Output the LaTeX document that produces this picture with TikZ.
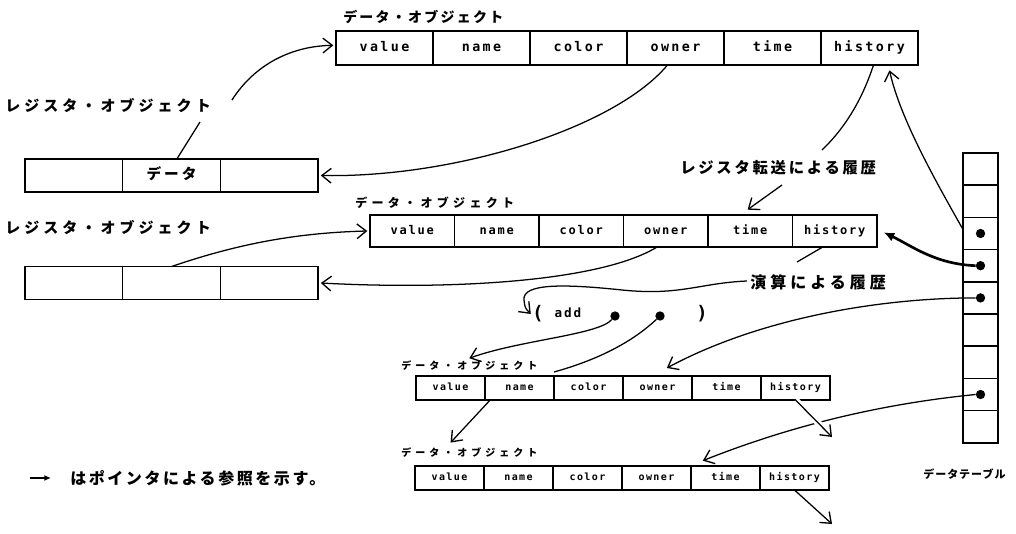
\documentclass[tikz,border=0pt]{standalone}
\usepackage{fontspec}
\usetikzlibrary{arrows.meta}
\newfontfamily\jp{Noto Sans CJK JP}
\newfontfamily\mono{DejaVu Sans Mono}
\begin{document}
\begin{tikzpicture}[x=0.75pt,y=-0.75pt,
  box/.style={draw, line width=1.1pt, inner sep=0pt, outer sep=0pt},
  cellT/.style={box, minimum width=72.75pt, minimum height=25.5pt, text height=7.5pt, text depth=2pt, font=\mono\bfseries\fontsize{10}{12}\selectfont\addfontfeature{LetterSpace=18}},
  cellM/.style={box, minimum width=63.375pt, minimum height=24pt, text height=6.8pt, text depth=1.8pt, font=\mono\bfseries\fontsize{9}{11}\selectfont\addfontfeature{LetterSpace=15}},
  cellS/.style={box, minimum width=51.75pt, minimum height=18pt, text height=5.6pt, text depth=1.5pt, font=\mono\bfseries\fontsize{7.5}{9}\selectfont\addfontfeature{LetterSpace=14}},
  cellR/.style={box, minimum width=73.3pt, minimum height=24.75pt, text height=8pt, text depth=2pt, font=\jp\bfseries\fontsize{11}{13}\selectfont\addfontfeature{LetterSpace=20}},
  cellD/.style={box, minimum width=26.25pt, minimum height=24.15pt},
  lbl/.style={anchor=west, inner sep=0pt},
  lblTop/.style={lbl, font=\jp\bfseries\fontsize{10.5}{12}\selectfont\addfontfeature{LetterSpace=16}},
  lblReg/.style={lbl, font=\jp\bfseries\fontsize{11.25}{13}\selectfont\addfontfeature{LetterSpace=27}},
  lblMid/.style={lbl, font=\jp\bfseries\fontsize{9}{11}\selectfont\addfontfeature{LetterSpace=36}},
  lblSm/.style={lbl, font=\jp\bfseries\fontsize{7.5}{9}\selectfont\addfontfeature{LetterSpace=40}},
  lblHA/.style={lbl, font=\jp\bfseries\fontsize{11.5}{13}\selectfont\addfontfeature{LetterSpace=18}},
  lblHB/.style={lbl, font=\jp\bfseries\fontsize{12}{14}\selectfont\addfontfeature{LetterSpace=25}},
  lblTab/.style={lbl, font=\jp\bfseries\fontsize{8.25}{10}\selectfont\addfontfeature{LetterSpace=9}},
  lblLeg/.style={lbl, font=\jp\bfseries\fontsize{12}{14}\selectfont\addfontfeature{LetterSpace=16}},
  paren/.style={inner sep=0pt, font=\mono\bfseries\fontsize{14}{16}\selectfont},
  addf/.style={inner sep=0pt, font=\mono\bfseries\fontsize{9.5}{11}\selectfont\addfontfeature{LetterSpace=15}},
  dotn/.style={circle, fill=black, inner sep=0pt, minimum size=7pt},
  ln/.style={line width=0.95pt},
  ptr/.style={ln, -{Straight Barb[length=7pt,width=11pt,line width=1pt]}},
  thickptr/.style={line width=2pt, -{Latex[length=8pt,width=7pt]}},
  gap/.style={preaction={draw=white, line width=5pt, -}}
]
\fill[white] (0,0) rectangle (1016,534);
\useasboundingbox (0,0) rectangle (1016,534);

% ---------- top data object ----------
\node[lblTop] (lt) at (343,17) {データ・オブジェクト};
\node[cellT] (t1) at (384.5,48) {value};
\node[cellT, anchor=west] (t2) at (t1.east) {name};
\node[cellT, anchor=west] (t3) at (t2.east) {color};
\node[cellT, anchor=west] (t4) at (t3.east) {owner};
\node[cellT, anchor=west] (t5) at (t4.east) {time};
\node[cellT, anchor=west] (t6) at (t5.east) {history};

% ---------- register object 1 ----------
\node[lblReg] (rl1) at (5,106) {レジスタ・オブジェクト};
\node[cellR] (r1a) at (73.8,175.5) {};
\node[cellR, anchor=west] (r1b) at (r1a.east) {データ};
\node[cellR, anchor=west] (r1c) at (r1b.east) {};

% ---------- middle data object ----------
\node[lblMid] (lm) at (355,203) {データ・オブジェクト};
\node[cellM] (m1) at (412.25,231) {value};
\node[cellM, anchor=west] (m2) at (m1.east) {name};
\node[cellM, anchor=west] (m3) at (m2.east) {color};
\node[cellM, anchor=west] (m4) at (m3.east) {owner};
\node[cellM, anchor=west] (m5) at (m4.east) {time};
\node[cellM, anchor=west] (m6) at (m5.east) {history};

% ---------- register object 2 ----------
\node[lblReg] (rl2) at (5,228) {レジスタ・オブジェクト};
\node[cellR] (r2a) at (73.8,283) {};
\node[cellR, anchor=west] (r2b) at (r2a.east) {};
\node[cellR, anchor=west] (r2c) at (r2b.east) {};

% ---------- history labels ----------
\node[lblHA] (lh1) at (680,168) {レジスタ転送による履歴};
\node[lblHB] (lh2) at (750,282) {演算による履歴};

% ---------- ( add . . ) ----------
\node[paren] (lp) at (538,314) {(};
\node[addf] (addn) at (568,313) {add};
\node[dotn] (dt1) at (615,316) {};
\node[dotn] (dt2) at (660,316) {};
\node[paren] (rp) at (702,314) {)};

% ---------- third data object ----------
\node[lblSm] (l3) at (401,366) {データ・オブジェクト};
\node[cellS] (c1) at (450.5,388) {value};
\node[cellS, anchor=west] (c2) at (c1.east) {name};
\node[cellS, anchor=west] (c3) at (c2.east) {color};
\node[cellS, anchor=west] (c4) at (c3.east) {owner};
\node[cellS, anchor=west] (c5) at (c4.east) {time};
\node[cellS, anchor=west] (c6) at (c5.east) {history};

% ---------- fourth data object ----------
\node[lblSm] (l4) at (401,453) {データ・オブジェクト};
\node[cellS] (d1) at (449.5,478) {value};
\node[cellS, anchor=west] (d2) at (d1.east) {name};
\node[cellS, anchor=west] (d3) at (d2.east) {color};
\node[cellS, anchor=west] (d4) at (d3.east) {owner};
\node[cellS, anchor=west] (d5) at (d4.east) {time};
\node[cellS, anchor=west] (d6) at (d5.east) {history};

% ---------- data table ----------
\node[cellD] (tb1) at (980.5,169.1) {};
\foreach \i [remember=\i as \j (initially 1)] in {2,...,9}{
  \node[cellD, anchor=north] (tb\i) at (tb\j.south) {};
}
\node[dotn] (td3) at (tb3.center) {};
\node[dotn] (td4) at (tb4.center) {};
\node[dotn] (td5) at (tb5.center) {};
\node[dotn] (td8) at (tb8.center) {};
\node[lblTab] (ltab) at (923,474) {データテーブル};

% ---------- legend ----------
\coordinate (la) at (30,478);
\coordinate (lb) at (51,478);
\draw[line width=1.2pt, -{Latex[length=5pt,width=4.5pt]}] (la) -- (lb);
\node[lblLeg] (leg) at (70,478) {はポインタによる参照を示す。};

% ---------- helper coordinates ----------
\coordinate (crl1) at (232,100);
\coordinate (crl1b) at (200,122);
\coordinate (crt) at (822,150);
\coordinate (crt2) at (782,185);
\coordinate (cop1) at (797,262);
\coordinate (cop2) at (747,281);
\coordinate (ch3) at (832,437);
\coordinate (ch4) at (832,524);

% ---------- connectors ----------
\draw[ptr] (crl1) .. controls (255,64) and (292,46) .. ([xshift=-2pt,yshift=2pt]t1.west);
\draw[ln] (crl1b) -- ([xshift=4pt]r1b.north);
\draw[ptr] ([xshift=-6pt]t4.south) .. controls (615,128) and (455,178) .. ([xshift=2pt]r1c.east);
\draw[ln] ([xshift=3pt]t6.south) .. controls (862,100) and (845,128) .. (crt);
\draw[ptr] (crt2) -- ([xshift=-2pt,yshift=4pt]m5.north);
\draw[ptr] ([yshift=3pt]tb3.west) .. controls (935,180) and (900,118) .. ([xshift=15pt,yshift=-4pt]t6.south);

\draw[ptr] (r2b.north) .. controls (232,246) and (290,233) .. ([xshift=-2pt]m1.west);
\draw[ptr] ([xshift=-6.5pt]m4.south) .. controls (600,282) and (450,290) .. ([xshift=2pt]r2c.east);
\draw[ln] ([xshift=-9pt]m6.south) -- (cop1);
\draw[ptr] (cop2) .. controls (700,283) and (680,296) .. (622,290)
  .. controls (565,284) and (522,283) .. (524,300)
  .. controls (525,308) .. ([xshift=-1pt]lp.west);
\draw[thickptr] (td4.west) .. controls (935,264) and (912,246) .. ([xshift=5pt,yshift=-1pt]m6.east);

\draw[ptr] (dt1) .. controls (598,335) and (520,340) .. ([yshift=2pt]l3.north);
\draw[ln] (dt2) .. controls (628,346) and (590,362) .. ([yshift=3pt]c3.north west);
\draw[ptr] (td5.west) .. controls (880,298) and (760,318) .. ([xshift=7pt,yshift=6pt]c4.north);

\draw[ptr] (td8.west) .. controls (880,404) and (790,426) .. ([xshift=-17pt,yshift=4pt]d5.north);
\draw[ptr, gap] (c6.south) -- (ch3);
\draw[ptr] ([xshift=-22pt]c2.south) -- ([xshift=-14pt,yshift=4pt]l4.north);
\draw[ptr] (d6.south) -- (ch4);
\end{tikzpicture}
\end{document}
